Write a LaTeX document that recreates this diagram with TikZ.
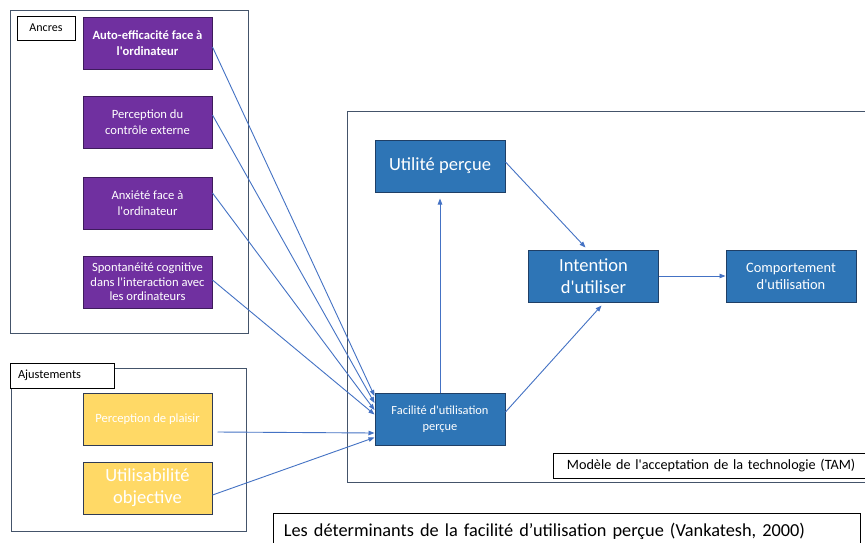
\documentclass[tikz,border=0pt]{standalone}
\usepackage{fontspec}
\setmainfont{Carlito}
\usepackage{xcolor}
\usetikzlibrary{arrows.meta, positioning}

\definecolor{ancreviolet}{HTML}{7030A0}
\definecolor{ancrebord}{HTML}{3E1B5C}
\definecolor{ajustjaune}{HTML}{FFD966}
\definecolor{ajustbord}{HTML}{2F3B55}
\definecolor{tambleu}{HTML}{2E75B6}
\definecolor{tambord}{HTML}{1F3F66}
\definecolor{lienbleu}{HTML}{4472C4}
\definecolor{cadregris}{HTML}{44546A}

\newcommand{\ap}{\textquotesingle}

\tikzset{
  boite/.style={draw, line width=1pt, text=white, align=center, minimum width=129pt, minimum height=52pt, inner sep=2pt},
  ancre/.style={boite, draw=ancrebord, fill=ancreviolet, font=\fontsize{12.6}{16}\selectfont},
  ajust/.style={boite, draw=ajustbord, fill=ajustjaune},
  tam/.style={boite, draw=tambord, fill=tambleu, minimum width=130pt},
  etiquette/.style={draw=black, fill=white, line width=0.8pt, inner sep=0pt},
  cadre/.style={draw=cadregris, line width=1pt},
  lien/.style={draw=lienbleu, line width=0.9pt, -{Triangle[length=6pt,width=4.5pt]}}
}

\begin{document}
\begin{tikzpicture}[x=1pt, y=-1pt]
    \clip (0,0) rectangle (865,542);
    \fill[white] (0,0) rectangle (865,542);

    % --- ANCRES (gauche, haut) ---
    \draw[cadre] (10,10) rectangle (248,333);
    \node (ancres) [etiquette, minimum width=58pt, minimum height=24pt, font=\fontsize{12}{14}\selectfont] at (46,28) {Ancres};
    \node (p1) [ancre, font=\bfseries\fontsize{12.6}{16}\selectfont] at (147.5,43) {Auto-efficacité face à\\l\ap ordinateur};
    \node (p2) [ancre] at (147.5,122) {Perception du\\contrôle externe};
    \node (p3) [ancre] at (147.5,203) {Anxiété face à\\l\ap ordinateur};
    \node (p4) [ancre, font=\fontsize{12.6}{14.5}\selectfont] at (147.5,282) {Spontanéité cognitive\\dans l\ap interaction avec\\les ordinateurs};

    % --- AJUSTEMENTS (gauche, bas) ---
    \draw[cadre] (11,368) rectangle (246,531);
    \node (ajustements) [etiquette, minimum width=104pt, minimum height=25pt, text width=96pt, align=left, font=\fontsize{12.4}{14}\selectfont] at (62,375.5) {\hspace*{4pt}Ajustements};
    \node (y1) [ajust, font=\fontsize{12.6}{15}\selectfont] at (147.5,419) {Perception de plaisir};
    \node (y2) [ajust, font=\fontsize{18.5}{22}\selectfont] at (147.5,488) {Utilisabilité\\objective};

    % --- TAM (droite) ---
    \draw[cadre] (347,111) rectangle (880,482);
    \node (util) [tam, font=\fontsize{18.5}{22}\selectfont] at (440,166) {Utilité perçue};
    \node (facil) [tam, font=\fontsize{12.4}{16}\selectfont] at (440,419.5) {Facilité d\ap utilisation\\perçue};
    \node (inten) [tam, font=\fontsize{18.5}{22}\selectfont] at (593.5,276) {Intention\\d\ap utiliser};
    \node (compo) [tam, font=\fontsize{14.4}{17}\selectfont] at (791,276) {Comportement\\d\ap utilisation};
    \node (tamlabel) [etiquette, minimum width=330pt, minimum height=25pt, text width=321pt, align=left, font=\fontsize{14.2}{16}\selectfont, anchor=west] at (553,465.5) {\hspace*{9pt}Modèle de l\ap acceptation de la technologie (TAM)};

    % Fleches determinants -> facilite
    \draw[lien] ([yshift=-4pt]p1.east) -- ([yshift=23.5pt]facil.west);
    \draw[lien] ([yshift=7pt]p2.east) -- ([yshift=16.5pt]facil.west);
    \draw[lien] ([yshift=10pt]p3.east) -- ([yshift=9.5pt]facil.west);
    \draw[lien] ([yshift=2pt]p4.east) -- ([yshift=5pt]facil.west);
    \draw[lien] ([xshift=5pt,yshift=-13pt]y1.east) -- ([yshift=-13.5pt]facil.west);
    \draw[lien] ([yshift=-7pt]y2.east) -- ([yshift=-18pt]facil.west);

    % Fleches TAM
    \draw[lien] (facil.north) -- ([yshift=-6pt]util.south);
    \draw[lien] ([yshift=4pt]util.east) -- ([xshift=-8pt,yshift=2pt]inten.north);
    \draw[lien] ([yshift=7.5pt]facil.east) -- ([xshift=8pt,yshift=-3pt]inten.south);
    \draw[lien] (inten.east) -- (compo.west);

    % --- Legende ---
    \node (legende) [etiquette, minimum width=587pt, minimum height=35pt, text width=580pt, align=left, font=\fontsize{18.3}{21}\selectfont, anchor=north west] at (273,513) {\hspace*{7pt}Les déterminants de la facilité d’utilisation perçue (Vankatesh, 2000)};
\end{tikzpicture}
\end{document}
